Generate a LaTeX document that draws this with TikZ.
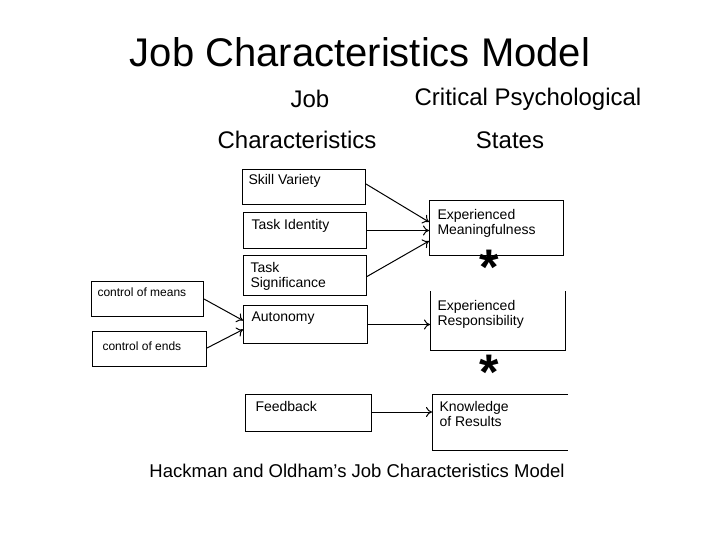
\documentclass[tikz,border=0pt]{standalone}
\usepackage{fontspec}
\setmainfont{Liberation Sans}
\usetikzlibrary{positioning}
\usetikzlibrary{arrows.meta}

\begin{document}
\begin{tikzpicture}[
    x = 1pt, y = -1pt
    , line width = 1pt
    , box/.style = {
      , rectangle
      , draw = black
      , inner sep = 0pt
      , anchor = north west
    }
    , txt/.style = {
      , font = \fontsize{14}{15}\selectfont
      , align = left
      , inner sep = 0pt
    }
    , head/.style = {
      , font = \fontsize{24}{26}\selectfont
    }
    , jcarrow/.style = {
      , -{To[length=6pt, width=10pt]}
      , draw = black
    }
    , star/.style = {
      , font = \fontsize{50}{50}\selectfont\bfseries
      , inner sep = 0pt
      , text height = 20pt
      , text depth = 0pt
    }
    ]
    \useasboundingbox (0,0) rectangle (720,540);

    \node[font=\fontsize{40}{44}\selectfont] (title) at (360,52) {Job Characteristics Model};
    \node[head] (h1) at (310,99) {Job};
    \node[head] (h2) at (528,99) {Critical Psychological};
    \node[head] (h3) at (297,140) {Characteristics};
    \node[head] (h4) at (510,140) {States};

    % job characteristics
    \node[box, minimum width=123pt, minimum height=35pt] (skill) at (242,169) {};
    \node[box, minimum width=123pt, minimum height=36pt] (ident) at (243,212) {};
    \node[box, minimum width=123pt, minimum height=40pt] (signif) at (243,255) {};
    \node[box, minimum width=124pt, minimum height=38pt] (auto) at (243,305) {};
    \node[box, minimum width=126pt, minimum height=37pt] (feed) at (245,394) {};
    \node[box, minimum width=112pt, minimum height=35pt] (means) at (91,281) {};
    \node[box, minimum width=114pt, minimum height=35pt] (ends) at (92,331) {};

    \node[txt, anchor=north west] at ([shift={(6,5)}]skill.north west) {Skill Variety};
    \node[txt, anchor=north west] at ([shift={(8,7)}]ident.north west) {Task Identity};
    \node[txt, anchor=north west] at ([shift={(7,7)}]signif.north west) {Task\\Significance};
    \node[txt, anchor=north west] at ([shift={(8,6)}]auto.north west) {Autonomy};
    \node[txt, anchor=north west] at ([shift={(10,7)}]feed.north west) {Feedback};
    \node[txt, anchor=north west, font=\fontsize{12}{13}\selectfont] at ([shift={(6,6)}]means.north west) {control of means};
    \node[txt, anchor=north west, font=\fontsize{12}{13}\selectfont] at ([shift={(10,10)}]ends.north west) {control of ends};

    % psychological states
    \node[box, minimum width=134pt, minimum height=55pt] (mean) at (429,200) {};
    \node[inner sep=0pt, minimum width=134pt, minimum height=58pt, anchor=north west] (resp) at (430,291) {};
    \draw (resp.north west) -- (resp.south west) -- (resp.south east) -- (resp.north east);
    \node[inner sep=0pt, minimum width=135pt, minimum height=55pt, anchor=north west] (know) at (432,394) {};
    \draw (know.north east) -- (know.north west) -- (know.south west) -- (know.south east);

    \node[txt, anchor=north west] at ([shift={(8,9)}]mean.north west) {Experienced\\Meaningfulness};
    \node[txt, anchor=north west] at ([shift={(7,9)}]resp.north west) {Experienced\\Responsibility};
    \node[txt, anchor=north west] at ([shift={(7,7)}]know.north west) {Knowledge\\of Results};

    \node[star] (star1) at (489,274) {*};
    \node[star] (star2) at (489,379) {*};

    % arrows
    \draw[jcarrow] ([yshift=3]skill.east) -- ([yshift=6]mean.west);
    \draw[jcarrow] (ident.east) -- (ident.east -| mean.west);
    \draw[jcarrow] ([yshift=-1]signif.east) -- ([yshift=-13]mean.west);
    \draw[jcarrow] (means.east) -- ([yshift=4]auto.west);
    \draw[jcarrow] ([yshift=1]ends.east) -- ([yshift=-5]auto.west);
    \draw[jcarrow] (auto.east) -- (auto.east -| resp.west);
    \draw[jcarrow] ([yshift=1]feed.east) -- ([yshift=1]feed.east -| know.west);

    \node[font=\fontsize{18.5}{20}\selectfont] (caption) at (357,471) {Hackman and Oldham's Job Characteristics Model};
  \end{tikzpicture}
\end{document}
